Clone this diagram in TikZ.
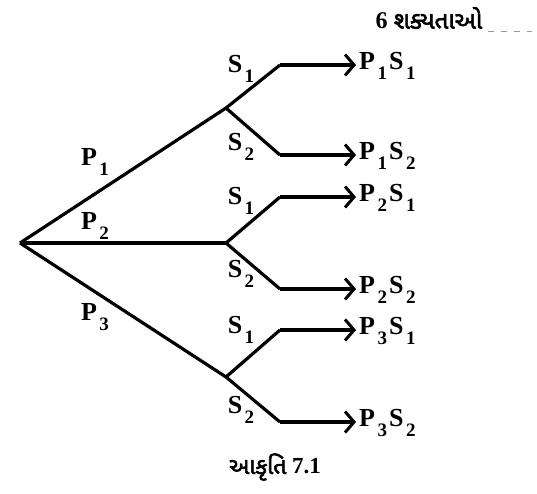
\documentclass[tikz,border=0pt]{standalone}
\usepackage{fontspec}
\setmainfont{Liberation Serif}
\newfontfamily\gujfont[Script=Gujarati,AutoFakeBold=2.5]{Noto Sans Gujarati UI}
\usetikzlibrary{arrows.meta, positioning}
\newcommand{\idx}[1]{\hspace{2.5pt}\raisebox{-0.36em}{\fontsize{19}{19}\selectfont #1}\hspace{2pt}}

\begin{document}
\begin{tikzpicture}[
	x=1pt, y=-1pt,
	branch/.style={line width=3.2pt, line join=miter},
	arr/.style={line width=3.2pt, -{Straight Barb[length=9pt, width=21pt, line width=3pt]}},
	leaf/.style={anchor=west, inner sep=3pt, font=\fontsize{26}{29}\selectfont\bfseries},
	lab/.style={inner sep=0pt, font=\fontsize{26}{29}\selectfont\bfseries}
	]
	\useasboundingbox (0,0) rectangle (537,494);

	% root and branch points
	\coordinate (root) at (20,243);
	\coordinate (bA) at (226,108);
	\coordinate (bB) at (226,243);
	\coordinate (bC) at (226,377);
	\coordinate (eA1) at (280,65);
	\coordinate (eA2) at (280,155);
	\coordinate (eB1) at (280,197);
	\coordinate (eB2) at (280,289);
	\coordinate (eC1) at (280,330);
	\coordinate (eC2) at (280,422);

	% outcomes
	\node[leaf] (oA1) at (356,66) {P\idx{1}S\idx{1}};
	\node[leaf] (oA2) at (356,156) {P\idx{1}S\idx{2}};
	\node[leaf] (oB1) at (356,198) {P\idx{2}S\idx{1}};
	\node[leaf] (oB2) at (356,290) {P\idx{2}S\idx{2}};
	\node[leaf] (oC1) at (356,331) {P\idx{3}S\idx{1}};
	\node[leaf] (oC2) at (356,423) {P\idx{3}S\idx{2}};

	% labels
	\node[lab] (pA) at (95,162) {P\idx{1}};
	\node[lab] (pB) at (95,226) {P\idx{2}};
	\node[lab] (pC) at (95,317) {P\idx{3}};
	\node[lab] (sA1) at (241,69) {S\idx{1}};
	\node[lab] (sA2) at (241,147) {S\idx{2}};
	\node[lab] (sB1) at (241,201) {S\idx{1}};
	\node[lab] (sB2) at (241,274) {S\idx{2}};
	\node[lab] (sC1) at (241,330) {S\idx{1}};
	\node[lab] (sC2) at (241,410) {S\idx{2}};

	\node[inner sep=0pt, font=\fontsize{24}{28}\selectfont\bfseries] (head) at (429,18) {6 \gujfont શક્યતાઓ};
	\coordinate (dashend) at (532,31);
	\node[inner sep=0pt, font=\fontsize{23}{26}\selectfont\bfseries] (fig) at (275,467) {{\gujfont આકૃતિ} 7.1};

	\draw[branch] (root) -- (bA);
	\draw[branch] (root) -- (bB);
	\draw[branch] (root) -- (bC);
	\draw[branch] (bA) -- (eA1);
	\draw[branch] (bA) -- (eA2);
	\draw[branch] (bB) -- (eB1);
	\draw[branch] (bB) -- (eB2);
	\draw[branch] (bC) -- (eC1);
	\draw[branch] (bC) -- (eC2);
	\draw[arr] (eA1) -- (eA1 -| oA1.west);
	\draw[arr] (eA2) -- (eA2 -| oA2.west);
	\draw[arr] (eB1) -- (eB1 -| oB1.west);
	\draw[arr] (eB2) -- (eB2 -| oB2.west);
	\draw[arr] (eC1) -- (eC1 -| oC1.west);
	\draw[arr] (eC2) -- (eC2 -| oC2.west);
	\draw[black!40, line width=0.8pt, dash pattern=on 6pt off 7pt] (head.east |- dashend) ++(5,0) -- (dashend);
\end{tikzpicture}
\end{document}
